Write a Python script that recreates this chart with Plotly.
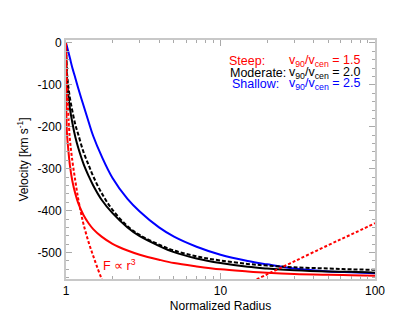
import plotly.graph_objects as go

# radius grid and velocity curves
radius = [1, 1.01, 1.02, 1.035, 1.06, 1.1, 1.15, 1.2, 1.3, 1.4, 1.5, 1.7, 2, 2.5, 3, 4, 5, 7, 10, 15, 20, 30, 50, 70, 100]

steep = [0, -200, -228, -255, -292, -330, -360, -382, -411, -430, -444, -462, -479, -495, -505, -517, -525, -533, -540, -545, -548, -551, -553, -554, -555]
moderate = [0, -72, -98, -124, -156, -191, -225, -250, -289, -317, -340, -374, -406, -440, -461, -484, -499, -514, -525, -534, -538, -542, -545, -546, -548]
moderate_dashed = [0, -61, -82, -104, -131, -163, -195, -218, -261, -291, -318, -358, -398, -437, -458, -481, -495, -509, -519, -527, -531, -535, -538, -540, -541]
shallow = [0, -6, -12, -21, -36, -60, -84, -108, -150, -188, -222, -270, -322, -372, -402, -440, -462, -486, -505, -520, -528, -538, -545, -547, -549]

# F ~ r^3 curve, two visible pieces
power_r = [1, 1.01, 1.02, 1.035, 1.06, 1.1, 1.15, 1.2, 1.25, 1.3, 1.4, 1.5, 1.6, 1.7, 1.75, None,
           16, 20, 30, 50, 70, 100]
power_v = [0, -70, -115, -170, -230, -282, -330, -372, -405, -433, -475, -508, -537, -563, -578, None,
           -569, -552, -521, -482, -457, -430]

y_ticks = [0, -100, -200, -300, -400, -500]
y_labels = ["0", "-100", "-200", "-300", "-400", "-500"]
x_ticks = [1, 10, 100]
x_minor = [2, 3, 4, 5, 6, 7, 8, 9, 20, 30, 40, 50, 60, 70, 80, 90]

fig = go.Figure()

fig.add_trace(go.Scatter(x=radius, y=shallow, mode="lines", line=dict(color="#0000ff", width=2, shape="spline")))
fig.add_trace(go.Scatter(x=radius, y=moderate_dashed, mode="lines",
                         line=dict(color="black", width=2, dash="4px,2px", shape="spline")))
fig.add_trace(go.Scatter(x=radius, y=moderate, mode="lines", line=dict(color="black", width=2, shape="spline")))
fig.add_trace(go.Scatter(x=radius, y=steep, mode="lines", line=dict(color="#ff0000", width=2, shape="spline")))
fig.add_trace(go.Scatter(x=power_r, y=power_v, mode="lines", connectgaps=False,
                         line=dict(color="#ff0000", width=2, dash="3px,2px", shape="spline")))

axis_font = dict(family="Liberation Sans, Arial, sans-serif", size=12, color="black")

fig.update_xaxes(type="log", range=[0, 2], tickvals=x_ticks, ticktext=["1", "10", "100"],
                 ticks="inside", ticklen=6, tickcolor="#aaaaaa", showline=True, linecolor="#c8c8c8",
                 linewidth=2, mirror="ticks", showgrid=False, zeroline=False, tickfont=axis_font,
                 automargin=False,
                 minor=dict(tickvals=x_minor, ticks="inside", ticklen=3, tickcolor="#aaaaaa"),
                 title=dict(text="Normalized Radius", font=axis_font, standoff=4))
fig.update_yaxes(range=[-563, 7], tickvals=y_ticks, ticktext=y_labels,
                 ticks="inside", ticklen=6, tickcolor="#aaaaaa", showline=True, linecolor="#c8c8c8",
                 linewidth=2, mirror="ticks", showgrid=False, zeroline=False, tickfont=axis_font,
                 automargin=False,
                 minor=dict(dtick=20, ticks="inside", ticklen=3, tickcolor="#aaaaaa"),
                 title=dict(text="Velocity [km s<sup>-1</sup>]", font=axis_font, standoff=6))

# legend text in the top right
rows = [("Steep:", "#ff0000", "1.5", 0.912, 0.521),
        ("Moderate:", "black", "2.0", 0.862, 0.524),
        ("Shallow:", "#0000ff", "2.5", 0.816, 0.531)]
for label, col, ratio, yy, xx in rows:
    fig.add_annotation(x=xx, y=yy, xref="paper", yref="paper", xanchor="left", yanchor="middle",
                       text=label, showarrow=False, font=dict(family=axis_font["family"], size=12.5, color=col))
    fig.add_annotation(x=0.715, y=yy, xref="paper", yref="paper", xanchor="left", yanchor="middle",
                       text="v<sub>90</sub>/v<sub>cen</sub> = " + ratio, showarrow=False,
                       font=dict(family=axis_font["family"], size=12.5, color=col))

fig.add_annotation(x=0.113, y=0.06, xref="paper", yref="paper", xanchor="left", yanchor="middle",
                   text="F \u221d r<sup>3</sup>", showarrow=False,
                   font=dict(family=axis_font["family"], size=12.5, color="#ff0000"))

# page body keeps an 8px margin, so the figure is drawn 8px smaller
fig.update_layout(width=407, height=313, showlegend=False,
                  margin=dict(l=58, r=40, t=32, b=42),
                  paper_bgcolor="white", plot_bgcolor="white")

fig.write_html("out.html")
